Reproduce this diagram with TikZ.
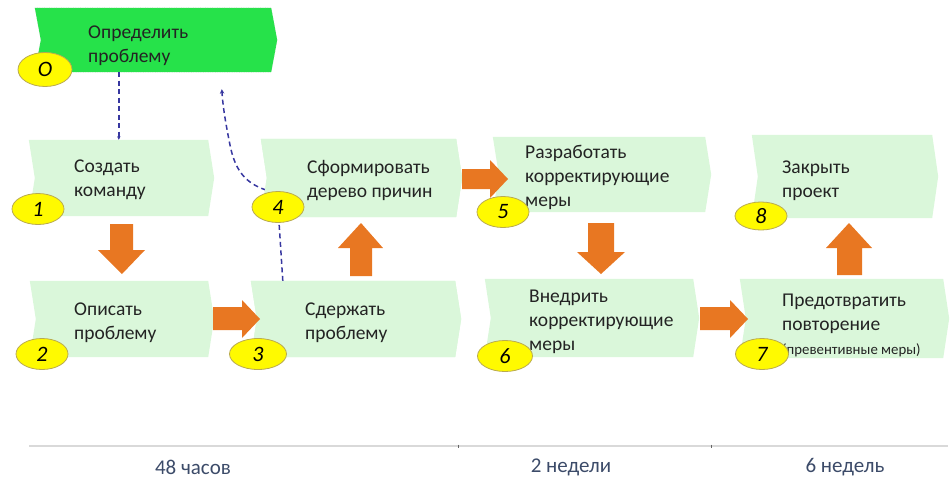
\documentclass[tikz,border=0pt]{standalone}
\usepackage{fontspec}
\setmainfont{Carlito}
\usetikzlibrary{arrows.meta,shapes.geometric}
\definecolor{lgreen}{RGB}{218,247,218}
\definecolor{bgreen}{RGB}{38,226,74}
\definecolor{orng}{RGB}{232,119,34}
\definecolor{yel}{RGB}{255,250,0}
\definecolor{yelb}{RGB}{185,170,80}
\definecolor{dblue}{RGB}{55,55,160}
\definecolor{tl}{RGB}{60,75,105}
\definecolor{txtc}{RGB}{35,35,35}
\tikzset{
  lbox/.style={fill=lgreen},
  gbox/.style={fill=bgreen, draw=gray!60, dotted},
  numell/.style={ellipse, fill=yel, draw=yelb, line width=0.8pt, minimum width=52pt, minimum height=31pt, inner sep=0pt, font=\fontsize{22}{22}\selectfont\itshape, text=black},
  btxt/.style={anchor=west, align=left, text=txtc, inner sep=0pt, font=\fontsize{19.5}{24}\selectfont},
  blk/.style={fill=orng},
  dsh/.style={draw=dblue, line width=1.5pt, dash pattern=on 5pt off 3.5pt},
  tltxt/.style={text=tl, font=\fontsize{21}{21}\selectfont}
}
\newcommand\chev[6]{%
  \node[minimum width=#4pt, minimum height=#5pt, inner sep=0pt] (#1) at (#2,#3) {};
  \path[#6] (#1.north west) -- (#1.north east) -- ([xshift=6pt]#1.east) -- (#1.south east) -- (#1.south west) -- ([xshift=6pt]#1.west) -- cycle;}
\begin{document}
\begin{tikzpicture}[x=1pt,y=-1pt]
\useasboundingbox (0,0) rectangle (951,488);
% boxes
\chev{b0}{153}{40}{236}{64}{gbox}
\chev{b1}{118.5}{178}{179}{76}{lbox}
\chev{b2}{119}{319}{178}{76}{lbox}
\chev{b3}{353}{319}{204}{76}{lbox}
\chev{b4}{358.5}{178}{195}{78}{lbox}
\chev{b5}{599}{174.5}{212}{75}{lbox}
\chev{b6}{589}{318}{208}{78}{lbox}
\chev{b7}{841.5}{318.5}{203}{79}{lbox}
\chev{b8}{842}{176.5}{180}{83}{lbox}
% dashed connectors
\coordinate (d1s) at ([xshift=84pt]b0.south west);
\coordinate (d1e) at (d1s |- b1.north);
\draw[dsh, -{Stealth[length=3.5pt,width=3.5pt]}] (d1s) -- (d1e);
\coordinate (d2s) at ([xshift=32pt]b3.north west);
\coordinate (d2e) at ([xshift=187pt,yshift=-17pt]b0.south west);
\draw[dsh, -{Stealth[length=4.5pt,width=4.5pt]}] (d2s) -- (279,222) -- (266,190) .. controls (245,183) and (235,170) .. (230,145) .. controls (226,125) and (223,108) .. (d2e);
% redraw box 4 and box 3 on top of dashed line
\path[lbox] (b4.north west) -- (b4.north east) -- ([xshift=6pt]b4.east) -- (b4.south east) -- (b4.south west) -- ([xshift=6pt]b4.west) -- cycle;
\path[lbox] (b3.north west) -- (b3.north east) -- ([xshift=6pt]b3.east) -- (b3.south east) -- (b3.south west) -- ([xshift=6pt]b3.west) -- cycle;
% block arrows
\path[blk] (110,224) -- (133,224) -- (133,250) -- (145,250) -- (122,274) -- (98,250) -- (110,250) -- cycle;
\path[blk] (213,307) -- (242,307) -- (242,300) -- (260,319) -- (242,338) -- (242,330) -- (213,330) -- cycle;
\path[blk] (350,276) -- (372,276) -- (372,248) -- (383,248) -- (361,223) -- (338,248) -- (350,248) -- cycle;
\path[blk] (462,169) -- (490,169) -- (490,160) -- (508,179) -- (490,198) -- (490,189) -- (462,189) -- cycle;
\path[blk] (588,223) -- (614,223) -- (614,252) -- (625,252) -- (601,274) -- (577,252) -- (588,252) -- cycle;
\path[blk] (700,307) -- (730,307) -- (730,300) -- (748,319) -- (730,338) -- (730,330) -- (700,330) -- cycle;
\path[blk] (837,275) -- (862,275) -- (862,248) -- (872,248) -- (849,223) -- (826,248) -- (837,248) -- cycle;
% texts
\node[btxt] (t0) at (88,45.5) {Определить\\проблему};
\node[btxt] (t1) at (74,180) {Создать\\команду};
\node[btxt] (t2) at (74,322.5) {Описать\\проблему};
\node[btxt] (t3) at (305,322.5) {Сдержать\\проблему};
\node[btxt] (t4) at (307,181) {Сформировать\\дерево причин};
\node[btxt] (t5) at (525,177.5) {Разработать\\корректирующие\\меры};
\node[btxt] (t6) at (529,322) {Внедрить\\корректирующие\\меры};
\node[btxt] (t8) at (782,181) {Закрыть\\проект};
\node[btxt] (t7) at (782,325) {Предотвратить\\повторение\\{\fontsize{14.8}{16}\selectfont(превентивные меры)}};
% number ellipses
\node[numell, minimum width=54pt, minimum height=34pt] (n0) at (45,69.5) {O};
\node[numell] (n1) at (38,209) {1};
\node[numell] (n2) at (42,354) {2};
\node[numell, minimum width=57pt] (n3) at (258,354) {3};
\node[numell] (n4) at (278,207) {4};
\node[numell] (n5) at (503,212) {5};
\node[numell, minimum width=55pt] (n6) at (505,356) {6};
\node[numell, minimum height=28pt] (n8) at (761,216) {8};
\node[numell, minimum width=53pt] (n7) at (762,354) {7};
% timeline
\coordinate (tla) at (29,446);
\coordinate (tlb) at (948,446);
\draw[draw=gray!30, line width=1.6pt] (tla) -- (tlb);
\draw[draw=gray!80!black, line width=0.8pt] (458,444.5) -- (458,447.5);
\draw[draw=gray!80!black, line width=0.8pt] (711,444.5) -- (711,447.5);
\node[tltxt] (l1) at (193,467) {48 часов};
\node[tltxt] (l2) at (571,467) {2 недели};
\node[tltxt] (l3) at (845,467) {6 недель};
\end{tikzpicture}
\end{document}
